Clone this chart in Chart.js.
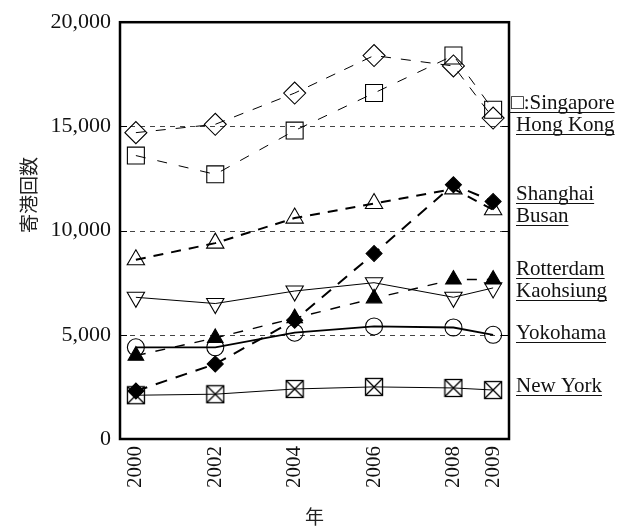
<!DOCTYPE html>
<html>
<head>
<meta charset="utf-8">
<script src="https://cdn.jsdelivr.net/npm/chart.js@4"></script>
<style>
html,body{margin:0;padding:0;background:#fff;}
canvas{display:block;}
</style>
</head>
<body>
<canvas id="c" width="641" height="530"></canvas>
<script>
const years = [2000, 2002, 2004, 2006, 2008, 2009];
const yTicks = [0, 5000, 10000, 15000, 20000];
const gridValues = [5000, 10000, 15000];
const hongKong  = [14700, 15100, 16600, 18400, 17900, 15400];
const singapore = [13600, 12700, 14800, 16600, 18400, 15800];
const busan     = [8600, 9400, 10600, 11300, 12000, 11000];
const shanghai  = [2300, 3600, 5700, 8900, 12200, 11400];
const rotterdam = [6800, 6500, 7100, 7500, 6800, 7250];
const kaohsiung = [4000, 4850, 5800, 6750, 7650, 7650];
const yokohama  = [4400, 4400, 5100, 5400, 5350, 5000];
const newYork   = [2100, 2150, 2400, 2500, 2450, 2350];
const yTitle = '寄港回数';
const xTitle = '年';
const cityLabels = [
  {text: '□:Singapore', y: 103, fromAxis: true},
  {text: 'Hong Kong', y: 125},
  {text: 'Shanghai', y: 194},
  {text: 'Busan', y: 216},
  {text: 'Rotterdam', y: 269},
  {text: 'Kaohsiung', y: 291},
  {text: 'Yokohama', y: 333},
  {text: 'New York', y: 386}
];

const SERIF = '"Liberation Serif", "DejaVu Serif", serif';
const CJK = '"Noto Sans CJK JP", "Noto Sans CJK SC", sans-serif';

function pts(vals){ return years.map((x,i)=>({x:x, y:vals[i]})); }

function crossBox(){
  const c = document.createElement('canvas');
  c.width = 20; c.height = 20;
  const g = c.getContext('2d');
  g.strokeStyle = '#000'; g.lineWidth = 1.3;
  g.strokeRect(1.5,1.5,17,17);
  g.beginPath();
  g.moveTo(1.5,1.5); g.lineTo(18.5,18.5);
  g.moveTo(18.5,1.5); g.lineTo(1.5,18.5);
  g.stroke();
  return c;
}

function ds(label, vals, o){
  return Object.assign({
    label: label, data: pts(vals), borderColor:'#000', backgroundColor:'rgba(0,0,0,0)',
    pointBorderColor:'#000', pointBackgroundColor:'rgba(0,0,0,0)', pointBorderWidth:1.1,
    tension:0, fill:false, borderWidth:1
  }, o);
}

const datasets = [
  ds('New York', newYork, {pointStyle: crossBox(), pointRadius:10}),
  ds('Yokohama', yokohama, {borderWidth:1.8, pointStyle:'circle', pointRadius:8.5}),
  ds('Rotterdam', rotterdam, {borderWidth:1, pointStyle:'triangle', rotation:180, pointRadius:10}),
  ds('Kaohsiung', kaohsiung, {borderWidth:1.4, borderDash:[10,10], pointStyle:'triangle', pointRadius:9, pointBackgroundColor:'#000'}),
  ds('Busan', busan, {borderWidth:2, borderDash:[10,8], pointStyle:'triangle', pointRadius:10}),
  ds('Shanghai', shanghai, {borderWidth:2, borderDash:[12,9], pointStyle:'rectRot', pointRadius:8, pointBackgroundColor:'#000'}),
  ds('Singapore', singapore, {borderWidth:1, borderDash:[10,12], pointStyle:'rect', pointRadius:12}),
  ds('Hong Kong', hongKong, {borderWidth:1, borderDash:[10,10], pointStyle:'rectRot', pointRadius:11})
];

const decor = {
  id:'decor',
  beforeDatasetsDraw(chart){
    const {ctx, chartArea:a, scales:{y}} = chart;
    ctx.save();
    gridValues.forEach(v=>{
      const py = Math.round(y.getPixelForValue(v)) + 0.5;
      ctx.strokeStyle = '#444'; ctx.lineWidth = 1;
      ctx.setLineDash([5,5]);
      ctx.beginPath(); ctx.moveTo(a.left, py); ctx.lineTo(a.right, py); ctx.stroke();
      ctx.setLineDash([]);
      ctx.strokeStyle = '#000';
      ctx.beginPath(); ctx.moveTo(a.left, py); ctx.lineTo(a.left+7, py);
      ctx.moveTo(a.right-7, py); ctx.lineTo(a.right, py); ctx.stroke();
    });
    ctx.restore();
  },
  afterDraw(chart){
    const {ctx, chartArea:a} = chart;
    ctx.save();
    ctx.strokeStyle = '#000'; ctx.lineWidth = 2.5;
    ctx.strokeRect(a.left, a.top, a.right-a.left, a.bottom-a.top);
    // axis titles
    ctx.fillStyle = '#222';
    ctx.font = '19px ' + CJK;
    ctx.textAlign = 'center'; ctx.textBaseline = 'middle';
    ctx.save();
    ctx.translate(29, 195); ctx.rotate(-Math.PI/2);
    ctx.fillText(yTitle, 0, 0);
    ctx.restore();
    ctx.fillText(xTitle, (a.left+a.right)/2, 517);
    // city labels
    ctx.font = '21px ' + SERIF;
    ctx.textAlign = 'left'; ctx.textBaseline = 'middle';
    ctx.fillStyle = '#111'; ctx.strokeStyle = '#111'; ctx.lineWidth = 1;
    cityLabels.forEach(l=>{
      const x0 = l.fromAxis ? a.right + 2 : a.right + 7;
      ctx.fillText(l.text, x0, l.y);
      const w = ctx.measureText(l.text).width;
      const uy = Math.round(l.y + 9) + 0.5;
      ctx.beginPath(); ctx.moveTo(l.fromAxis ? a.right : x0, uy); ctx.lineTo(x0 + w, uy); ctx.stroke();
    });
    ctx.restore();
  }
};

new Chart(document.getElementById('c'), {
  type:'line',
  data:{datasets: datasets},
  plugins:[decor],
  options:{
    animation:false, responsive:false, devicePixelRatio:1,
    layout:{padding:{top:19, right:132, left:0, bottom:0}},
    plugins:{legend:{display:false}, tooltip:{enabled:false}},
    scales:{
      x:{
        type:'linear', min:1999.6, max:2009.4,
        afterBuildTicks: s => { s.ticks = years.map(v=>({value:v})); },
        afterFit: s => { s.height = 91; },
        ticks:{minRotation:90, maxRotation:90, autoSkip:false, padding:7, color:'#111',
               font:{family:SERIF, size:21}, callback: v => String(v)},
        grid:{display:false, drawTicks:false},
        border:{display:false}
      },
      y:{
        min:0, max:20000,
        afterBuildTicks: s => { s.ticks = yTicks.map(v=>({value:v})); },
        afterFit: s => { s.width = 120; },
        ticks:{padding:9, color:'#111', font:{family:SERIF, size:22},
               callback: v => v.toLocaleString('en-US')},
        grid:{display:false, drawTicks:false},
        border:{display:false}
      }
    }
  }
});
</script>
</body>
</html>
